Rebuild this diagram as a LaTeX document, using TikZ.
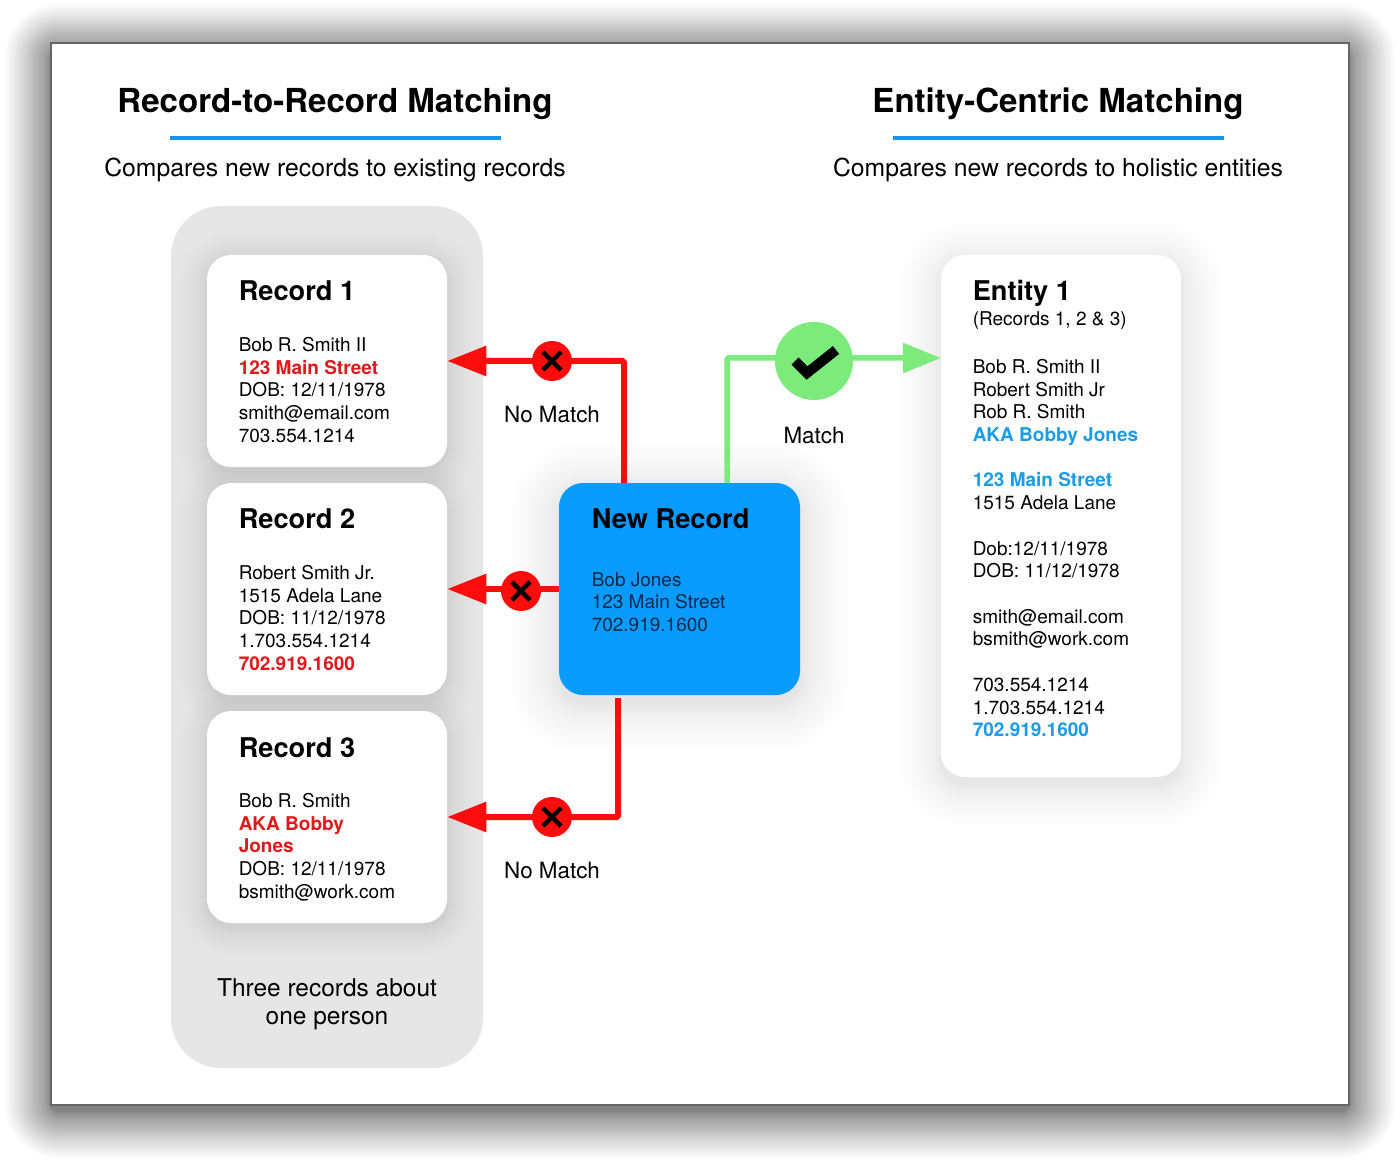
\documentclass[tikz,border=0pt]{standalone}
\usepackage{fontspec}
\setmainfont{TeX Gyre Heros}
\usetikzlibrary{arrows.meta}
\definecolor{lineRed}{HTML}{FB0D0D}
\definecolor{textRed}{HTML}{E0181A}
\definecolor{lineGreen}{HTML}{7CEB7C}
\definecolor{boxBlue}{HTML}{0A9BFE}
\definecolor{ruleBlue}{HTML}{1596E8}
\definecolor{textBlue}{HTML}{1C9BE6}
\definecolor{panelGrey}{HTML}{E6E6E6}
\definecolor{navy}{HTML}{08294A}
\def\px{.75pt}
% soft shadow: cx cy w h radius spread steps opacity dy
\newcommand\softbox[9]{%
  \foreach \i in {1,...,#7}{%
    \pgfmathsetmacro\rr{#6*pow((#7+1-\i)/#7,1.6)}%
    \pgfmathsetmacro\xa{#1-#3/2-\rr}\pgfmathsetmacro\xb{#1+#3/2+\rr}%
    \pgfmathsetmacro\ya{#2+#9-#4/2-\rr}\pgfmathsetmacro\yb{#2+#9+#4/2+\rr}%
    \pgfmathsetmacro\rc{(#5+\rr)*0.75}%
    \fill[black,opacity=#8,rounded corners=\rc pt] (\xa,\ya) rectangle (\xb,\yb);
  }}
\tikzset{
  x=.75pt,y=-.75pt,
  frame/.style={draw=black!60,line width=1.5*\px,fill=white,minimum width=1298*\px,minimum height=1062*\px,inner sep=0pt},
  panel/.style={fill=panelGrey,rounded corners=50*\px,minimum width=312*\px,minimum height=862*\px,inner sep=0pt},
  card/.style={fill=white,rounded corners=24*\px,minimum width=240*\px,minimum height=212*\px,inner sep=0pt},
  title/.style={font=\fontsize{24.8}{30}\selectfont\bfseries,inner sep=0pt,anchor=base},
  subtitle/.style={font=\fontsize{18.55}{22}\selectfont,inner sep=0pt,anchor=base},
  head/.style={font=\fontsize{20.4}{24}\selectfont\bfseries,inner sep=0pt,anchor=base west},
  body/.style={font=\fontsize{14.25}{17.03}\selectfont,inner sep=0pt,anchor=north west,align=left},
  caption/.style={font=\fontsize{16.8}{21}\selectfont,inner sep=0pt,anchor=base},
  rulebar/.style={ruleBlue,line width=3.5*\px},
  redline/.style={lineRed,line width=6*\px,-{Triangle[length=39*\px,width=29*\px]}},
  greenline/.style={lineGreen,line width=5.5*\px,-{Triangle[length=38*\px,width=29*\px]}},
  nogo/.style={circle,fill=lineRed,minimum size=40*\px,inner sep=0pt},
  okgo/.style={circle,fill=lineGreen,minimum size=78*\px,inner sep=0pt},
  xstroke/.style={black,line width=4.5*\px},
}
\newcommand\crossmark[1]{\draw[xstroke,shift={(#1.center)}] (-9,-9) -- (9,9) (-9,9) -- (9,-9);}
\begin{document}
\begin{tikzpicture}
\useasboundingbox (0,0) rectangle (1400,1166);
\fill[white] (0,0) rectangle (1400,1166);
% page shadow
\softbox{700}{574}{1298}{1062}{8}{46}{36}{0.0165}{7}
\node[frame] (page) at (700,574) {};
% titles
\node[title] (ttlA) at (335,112.5) {Record-to-Record Matching};
\node[title] (ttlB) at (1058,112.5) {Entity-Centric Matching};
\draw[rulebar] (170,138) -- (501,138);
\draw[rulebar] (893,138) -- (1224,138);
\node[subtitle] (subA) at (335,177) {Compares new records to existing records};
\node[subtitle] (subB) at (1058,177) {Compares new records to holistic entities};
% panel
\node[panel] (panel) at (327,637) {};
% card shadows
\softbox{327}{361}{240}{212}{24}{30}{22}{0.0048}{5}
\softbox{327}{589}{240}{212}{24}{30}{22}{0.0048}{5}
\softbox{327}{817}{240}{212}{24}{30}{22}{0.0048}{5}
\softbox{679.5}{589}{241}{212}{24}{50}{26}{0.0032}{8}
\softbox{1061}{516}{240}{522}{24}{42}{24}{0.0032}{8}
% cards
\node[card] (card1) at (327,361) {};
\node[card] (card2) at (327,589) {};
\node[card] (card3) at (327,817) {};
\node[card,minimum height=522*\px] (entity) at (1061,516) {};
% connectors behind the blue card
\coordinate (newTopRed) at (624,483);
\coordinate (newTopGreen) at (727,483);
\coordinate (newBotRed) at (618,698);
\coordinate (entityIn) at (941,358);
\draw[redline,rounded corners=1.5*\px] (newTopRed) |- (card1.east);
\draw[redline,rounded corners=1.5*\px] (newBotRed) |- (card3.east);
\draw[greenline,rounded corners=1.5*\px] (newTopGreen) |- (entityIn);
\node[card,fill=boxBlue,minimum width=241*\px] (newrec) at (679.5,589) {};
\draw[redline] (newrec.west) -- (card2.east);
% status marks
\node[nogo] (x1) at (552,361) {};
\node[nogo] (x2) at (521,591) {};
\node[nogo] (x3) at (552,817) {};
\crossmark{x1}\crossmark{x2}\crossmark{x3}
\node[okgo] (ok) at (814,361) {};
\draw[black,line width=10*\px,shift={(ok.center)}] (-19,0) -- (-7,12) -- (22,-11);
% labels
\node[caption] (lb1) at (552,422) {No Match};
\node[caption] (lb2) at (814,443) {Match};
\node[caption] (lb3) at (552,878) {No Match};
% card texts
\node[head] (h1) at (238.5,300.5) {Record 1};
\node[body] (t1) at (238.5,337) {Bob R. Smith II\\\textcolor{textRed}{\bfseries 123 Main Street}\\DOB: 12/11/1978\\smith@email.com\\703.554.1214};
\node[head] (h2) at (238.5,528.5) {Record 2};
\node[body] (t2) at (238.5,565) {Robert Smith Jr.\\1515 Adela Lane\\DOB: 11/12/1978\\1.703.554.1214\\\textcolor{textRed}{\bfseries 702.919.1600}};
\node[head] (h3) at (238.5,757) {Record 3};
\node[body] (t3) at (238.5,793) {Bob R. Smith\\\textcolor{textRed}{\bfseries AKA Bobby}\\\textcolor{textRed}{\bfseries Jones}\\DOB: 12/11/1978\\bsmith@work.com};
\node[head] (h4) at (591.5,528) {New Record};
\node[body,text=navy] (t4) at (591.5,572) {Bob Jones\\123 Main Street\\702.919.1600};
\node[head] (h5) at (972.5,300.5) {Entity 1};
\node[body] (t5a) at (972.5,311) {(Records 1, 2 \& 3)};
\node[body] (t5) at (972.5,359) {Bob R. Smith II\\Robert Smith Jr\\Rob R. Smith\\\textcolor{textBlue}{\bfseries AKA Bobby Jones}\\[\baselineskip]\textcolor{textBlue}{\bfseries 123 Main Street}\\1515 Adela Lane\\[\baselineskip]Dob:12/11/1978\\DOB: 11/12/1978\\[\baselineskip]smith@email.com\\bsmith@work.com\\[\baselineskip]703.554.1214\\1.703.554.1214\\\textcolor{textBlue}{\bfseries 702.919.1600}};
\node[caption,anchor=north,align=center,font=\fontsize{18.35}{21.6}\selectfont] (pnote) at (327,978) {Three records about\\one person};
\end{tikzpicture}
\end{document}
